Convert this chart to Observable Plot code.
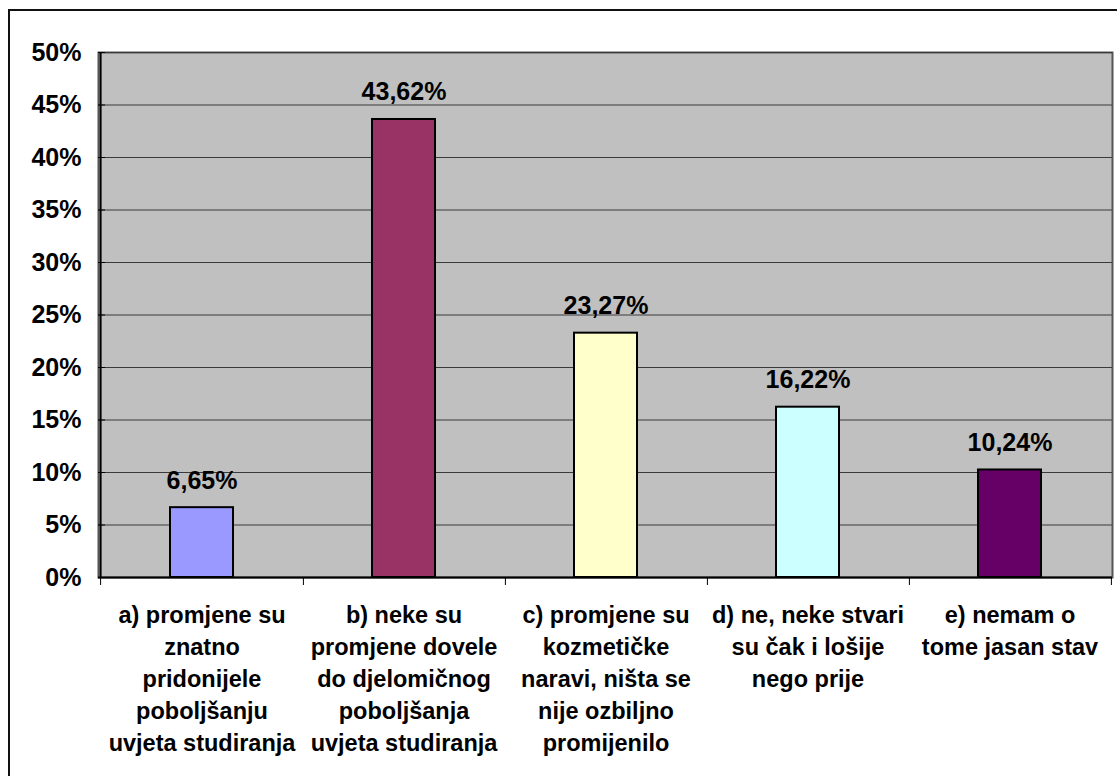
<!DOCTYPE html>
<html><head><meta charset="utf-8">
<script src="https://cdn.jsdelivr.net/npm/d3@7"></script>
<script src="https://cdn.jsdelivr.net/npm/@observablehq/plot@0.6"></script>
<style>
html,body{margin:0;padding:0;background:#fff;overflow:hidden;width:1117px;height:776px}
#frame{position:absolute;left:8px;top:9px;width:1200px;height:900px;border-left:2px solid #111;border-top:2px solid #111;box-sizing:border-box}
#chart{position:absolute;left:0;top:0}
</style></head><body>
<div id="frame"></div>
<div id="chart"></div>
<script>
const categories = ["a", "b", "c", "d", "e"];
const categoryLabels = [
  "a) promjene su\nznatno\npridonijele\npoboljšanju\nuvjeta studiranja",
  "b) neke su\npromjene dovele\ndo djelomičnog\npoboljšanja\nuvjeta studiranja",
  "c) promjene su\nkozmetičke\nnaravi, ništa se\nnije ozbiljno\npromijenilo",
  "d) ne, neke stvari\nsu čak i lošije\nnego prije",
  "e) nemam o\ntome jasan stav"
];
const values = [6.65, 43.62, 23.27, 16.22, 10.24];
const barColors = ["#9999FF", "#993366", "#FFFFCC", "#CCFFFF", "#660066"];
const yTicks = [0, 5, 10, 15, 20, 25, 30, 35, 40, 45, 50];

const data = categories.map((c, i) => ({cat: c, label: categoryLabels[i], value: values[i], color: barColors[i]}));

const W = 1117, H = 776, ML = 98, MR = 5, MT = 52, MB = 199;
const plotW = W - ML - MR;
const step = plotW / categories.length;
const fmt = v => v.toFixed(2).replace(".", ",") + "%";

const chart = Plot.plot({
  width: W, height: H,
  marginLeft: ML, marginRight: MR, marginTop: MT, marginBottom: MB,
  style: {background: "transparent", fontFamily: "'Liberation Sans', Arial, sans-serif", fontWeight: "bold", color: "#000", overflow: "visible"},
  x: {domain: categories, axis: null, paddingInner: 0.69, paddingOuter: 0.345},
  y: {domain: [0, 50], axis: null},
  color: {type: "identity"},
  marks: [
    Plot.frame({fill: "#c0c0c0", stroke: "#555", strokeWidth: 2}),
    Plot.ruleY(yTicks, {stroke: "#3a3a3a", strokeWidth: 1}),
    Plot.ruleY(yTicks, {stroke: "#000", strokeWidth: 1, insetRight: plotW - 7}),
    Plot.barY(data, {x: "cat", y: "value", fill: "color", stroke: "#000", strokeWidth: 2}),
    Plot.ruleX([categories[0]], {stroke: "#000", strokeWidth: 2, dx: -step / 2}),
    Plot.ruleY([0], {stroke: "#000", strokeWidth: 2}),
    Plot.ruleX(categories, {x: d => d, y1: 0, y2: 0, insetBottom: -8, stroke: "#000", strokeWidth: 1, dx: step / 2}),
    Plot.ruleX([categories[0]], {x: d => d, y1: 0, y2: 0, insetBottom: -8, stroke: "#000", strokeWidth: 1, dx: -step / 2}),
    Plot.text(data, {x: "cat", y: "value", text: d => fmt(d.value), dy: -27, fontSize: 25, fontWeight: "bold", fill: "#000"}),
    Plot.text(data, {x: "cat", frameAnchor: "bottom", text: "label", lineAnchor: "top", dy: 23, lineHeight: 1.362, fontSize: 23.5, fontWeight: "bold", fill: "#000"}),
    Plot.text(yTicks, {y: d => d, text: d => d + "%", frameAnchor: "left", textAnchor: "end", dx: -17, fontSize: 25, fontWeight: "bold", fill: "#000"})
  ]
});
document.getElementById("chart").appendChild(chart);
</script>
</body></html>
